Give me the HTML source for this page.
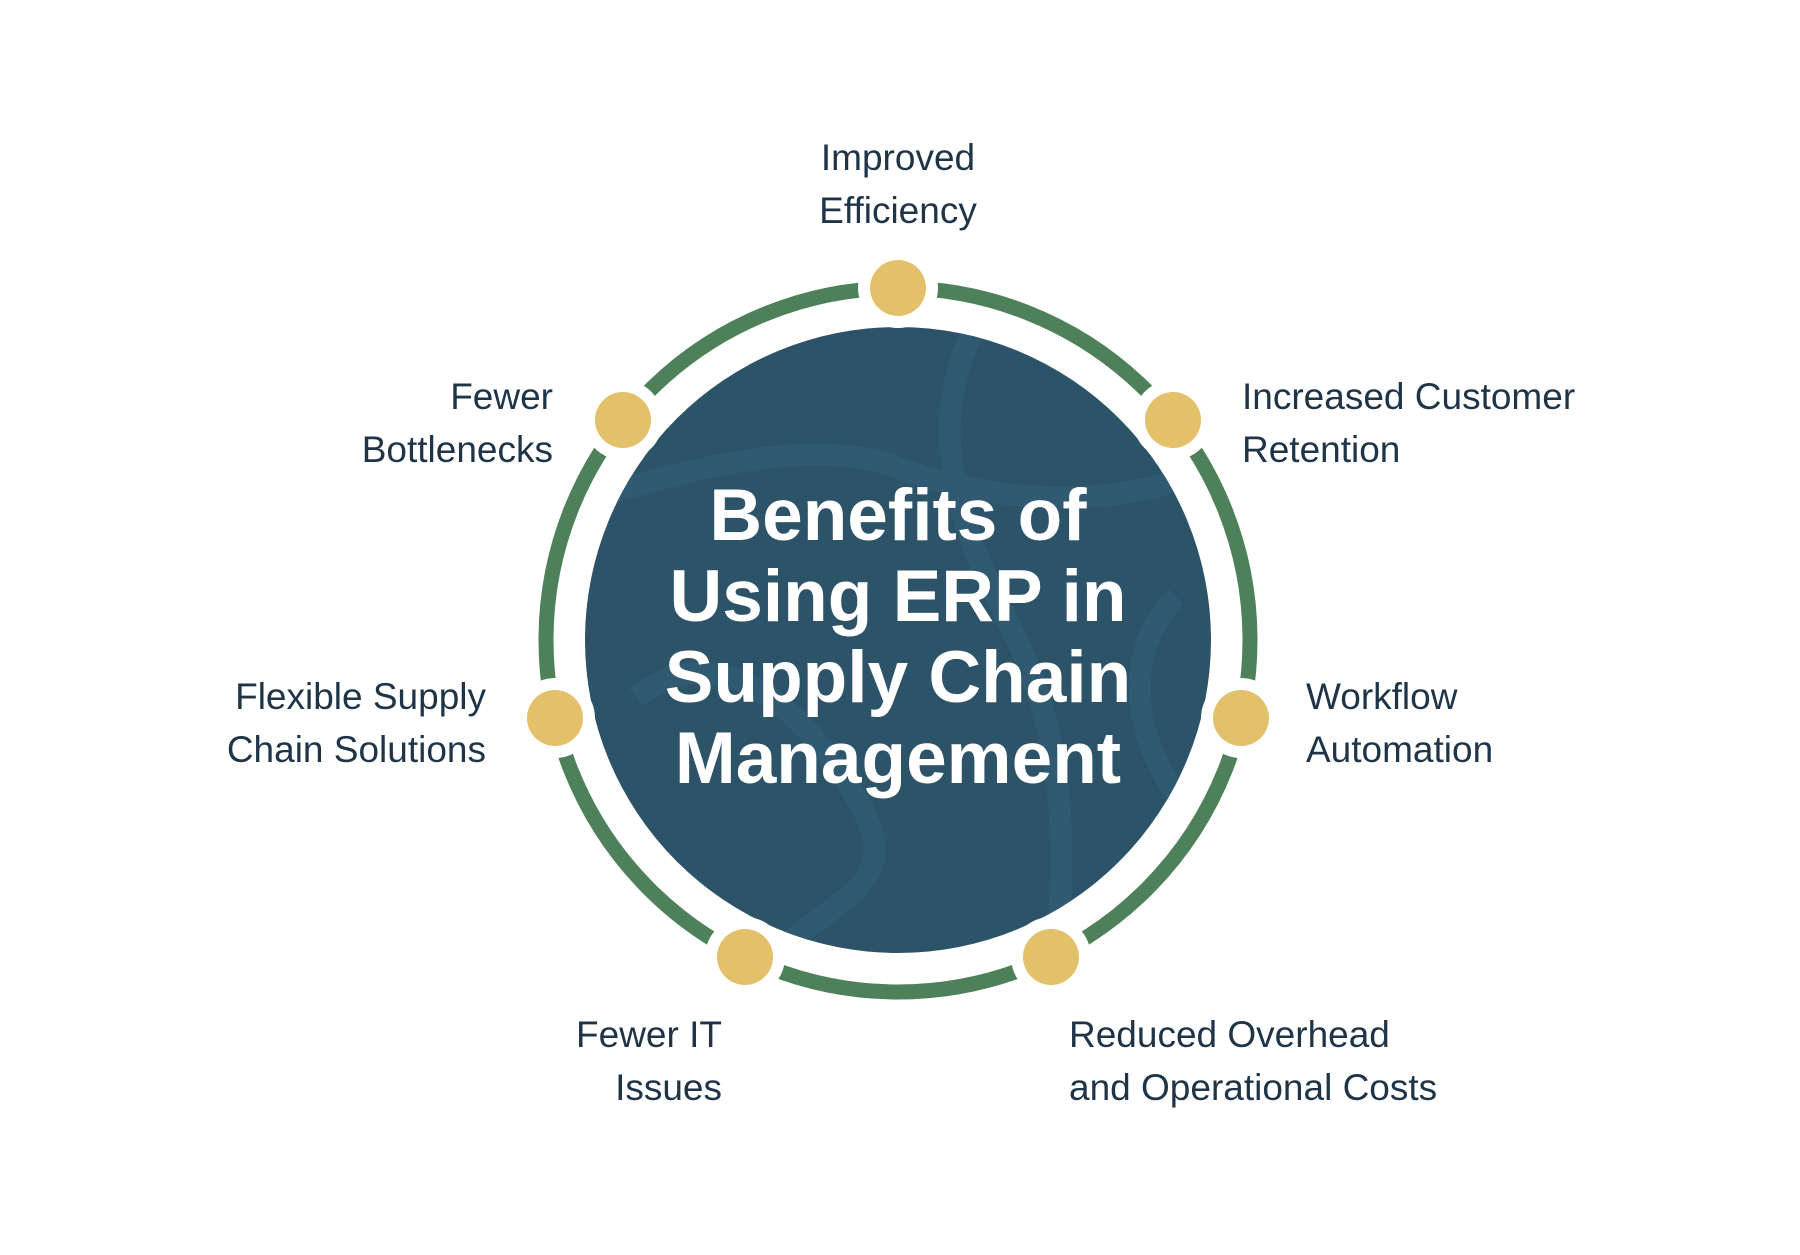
<!DOCTYPE html>
<html><head><style>html,body{margin:0;padding:0;background:#fff}</style></head>
<body>
<svg width="1800" height="1250" viewBox="0 0 1800 1250" xmlns="http://www.w3.org/2000/svg">
<rect width="1800" height="1250" fill="#fff"/>
<g transform="translate(-4,-3)">
<circle cx="902" cy="643" r="352" fill="none" stroke="#4e8159" stroke-width="15"/>
<defs><clipPath id="c"><circle cx="902" cy="643" r="313"/></clipPath></defs>
<circle cx="902" cy="643" r="313" fill="#2d5369"/>
<g clip-path="url(#c)" fill="none" stroke="#31597000" stroke-width="22">
<path stroke="#305a72" d="M600 500 C700 470 820 440 900 470 S1100 520 1220 470"/>
<path stroke="#305a72" d="M980 330 C930 420 960 520 1000 600 S1080 760 1060 960"/>
<path stroke="#305a72" d="M640 700 C720 640 800 700 860 800 S820 900 760 980"/>
<path stroke="#305a72" d="M1180 600 C1120 660 1140 760 1200 820"/>
</g>
<g fill="#fff">
<circle cx="902" cy="291" r="40"/><circle cx="1177" cy="423" r="40"/><circle cx="1245" cy="721" r="40"/>
<circle cx="1055" cy="960" r="40"/><circle cx="749" cy="960" r="40"/><circle cx="559" cy="721" r="40"/><circle cx="627" cy="423" r="40"/>
</g>
<g fill="#e3c06a">
<circle cx="902" cy="291" r="28"/><circle cx="1177" cy="423" r="28"/><circle cx="1245" cy="721" r="28"/>
<circle cx="1055" cy="960" r="28"/><circle cx="749" cy="960" r="28"/><circle cx="559" cy="721" r="28"/><circle cx="627" cy="423" r="28"/>
</g>
<g font-family="Liberation Sans, sans-serif" font-weight="bold" font-size="73" fill="#fff" text-anchor="middle">
<text x="902" y="543">Benefits of</text>
<text x="902" y="624">Using ERP in</text>
<text x="902" y="705">Supply Chain</text>
<text x="902" y="786">Management</text>
</g>
<g font-family="Liberation Sans, sans-serif" font-size="37" fill="#1f3447">
<text x="902" y="173" text-anchor="middle">Improved</text>
<text x="902" y="226" text-anchor="middle">Efficiency</text>
<text x="1246" y="412">Increased Customer</text>
<text x="1246" y="465">Retention</text>
<text x="1310" y="712">Workflow</text>
<text x="1310" y="765">Automation</text>
<text x="1073" y="1050">Reduced Overhead</text>
<text x="1073" y="1103">and Operational Costs</text>
<text x="726" y="1050" text-anchor="end">Fewer IT</text>
<text x="726" y="1103" text-anchor="end">Issues</text>
<text x="490" y="712" text-anchor="end">Flexible Supply</text>
<text x="490" y="765" text-anchor="end">Chain Solutions</text>
<text x="557" y="412" text-anchor="end">Fewer</text>
<text x="557" y="465" text-anchor="end">Bottlenecks</text>
</g>
</g>
</svg>
</body></html>
